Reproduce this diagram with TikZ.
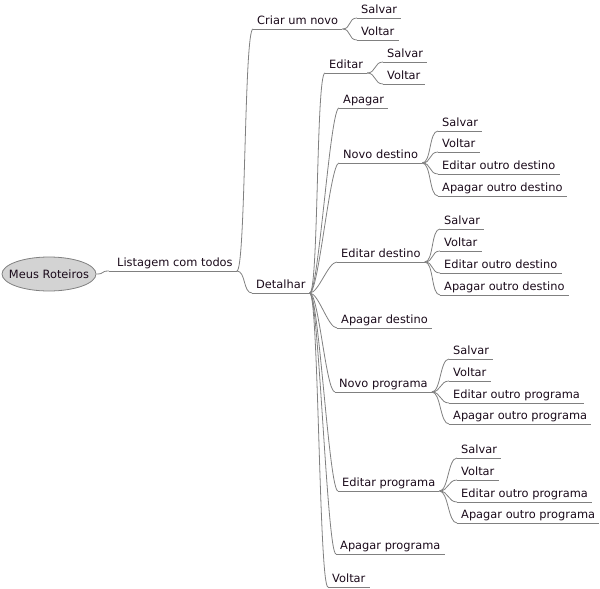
\documentclass[tikz,border=0pt]{standalone}
\usepackage{fontspec}
\setmainfont{DejaVu Sans}
\usetikzlibrary{shapes.geometric}
\definecolor{linec}{HTML}{808080}
\definecolor{rootfill}{HTML}{D3D3D3}
\definecolor{txt}{HTML}{1A0A1A}
\newcommand{\mmfont}{\fontsize{11.4}{13}\selectfont}
\tikzset{
  conn/.style={draw=linec, line width=0.8pt},
  mm/.style={anchor=south west, inner xsep=4pt, inner ysep=0pt,
    text height=8.5pt, text depth=4.3pt, font=\mmfont, text=txt,
    append after command={(\tikzlastnode.south west) edge[conn] (\tikzlastnode.south east)}},
  link/.style={conn, to path={.. controls +(9pt,0) and +(-9pt,0) .. (\tikztotarget)}},
  rootnode/.style={ellipse, draw=linec, fill=rootfill, line width=0.8pt,
    minimum width=94pt, minimum height=34pt, inner sep=0pt, font=\mmfont, text=txt}
}
\begin{document}
\begin{tikzpicture}[x=1pt,y=-1pt]
\useasboundingbox (0,0) rectangle (600,589);
\node[rootnode] (root) at (49,274) {\makebox[0pt]{Meus Roteiros}};
\node[mm] (lt) at (109,271) {\hspace{4pt}Listagem com todos};
\node[mm] (cr) at (253,29) {Criar um novo};
\node[mm] (crs) at (357,18) {Salvar};
\node[mm] (crv) at (357,40) {Voltar};
\node[mm] (dt) at (252,293) {Detalhar};
\node[mm] (ed) at (325,73) {Editar};
\node[mm] (eds) at (383,62) {Salvar};
\node[mm] (edv) at (383,84) {Voltar};
\node[mm] (ap) at (339,108) {Apagar};
\node[mm] (nd) at (339,163) {Novo destino};
\node[mm] (nds) at (438,131) {Salvar};
\node[mm] (ndv) at (438,152) {Voltar};
\node[mm] (nde) at (438,174) {Editar outro destino};
\node[mm] (nda) at (438,196) {Apagar outro destino};
\node[mm] (edd) at (337,262) {Editar destino};
\node[mm] (edds) at (440,229) {Salvar};
\node[mm] (eddv) at (440,251) {Voltar};
\node[mm] (edde) at (440,273) {Editar outro destino};
\node[mm] (edda) at (440,295) {Apagar outro destino};
\node[mm] (add) at (337,328) {Apagar destino};
\node[mm] (np) at (335,392) {Novo programa};
\node[mm] (nps) at (449,359) {Salvar};
\node[mm] (npv) at (449,381) {Voltar};
\node[mm] (npe) at (449,403) {Editar outro programa};
\node[mm] (npa) at (449,424) {Apagar outro programa};
\node[mm] (ep) at (338,491) {Editar programa};
\node[mm] (eps) at (457,458) {Salvar};
\node[mm] (epv) at (457,480) {Voltar};
\node[mm] (epe) at (457,502) {Editar outro programa};
\node[mm] (epa) at (457,523) {Apagar outro programa};
\node[mm] (apr) at (336,554) {Apagar programa};
\node[mm] (vt) at (328,587) {Voltar};

\draw[link] (root.east) to (lt.south west);
\foreach \c in {cr,dt} \draw[link] (lt.south east) to (\c.south west);
\foreach \c in {crs,crv} \draw[link] (cr.south east) to (\c.south west);
\foreach \c in {ed,ap,nd,edd,add,np,ep,apr,vt} \draw[link] (dt.south east) to (\c.south west);
\foreach \c in {eds,edv} \draw[link] (ed.south east) to (\c.south west);
\foreach \c in {nds,ndv,nde,nda} \draw[link] (nd.south east) to (\c.south west);
\foreach \c in {edds,eddv,edde,edda} \draw[link] (edd.south east) to (\c.south west);
\foreach \c in {nps,npv,npe,npa} \draw[link] (np.south east) to (\c.south west);
\foreach \c in {eps,epv,epe,epa} \draw[link] (ep.south east) to (\c.south west);
\end{tikzpicture}
\end{document}
